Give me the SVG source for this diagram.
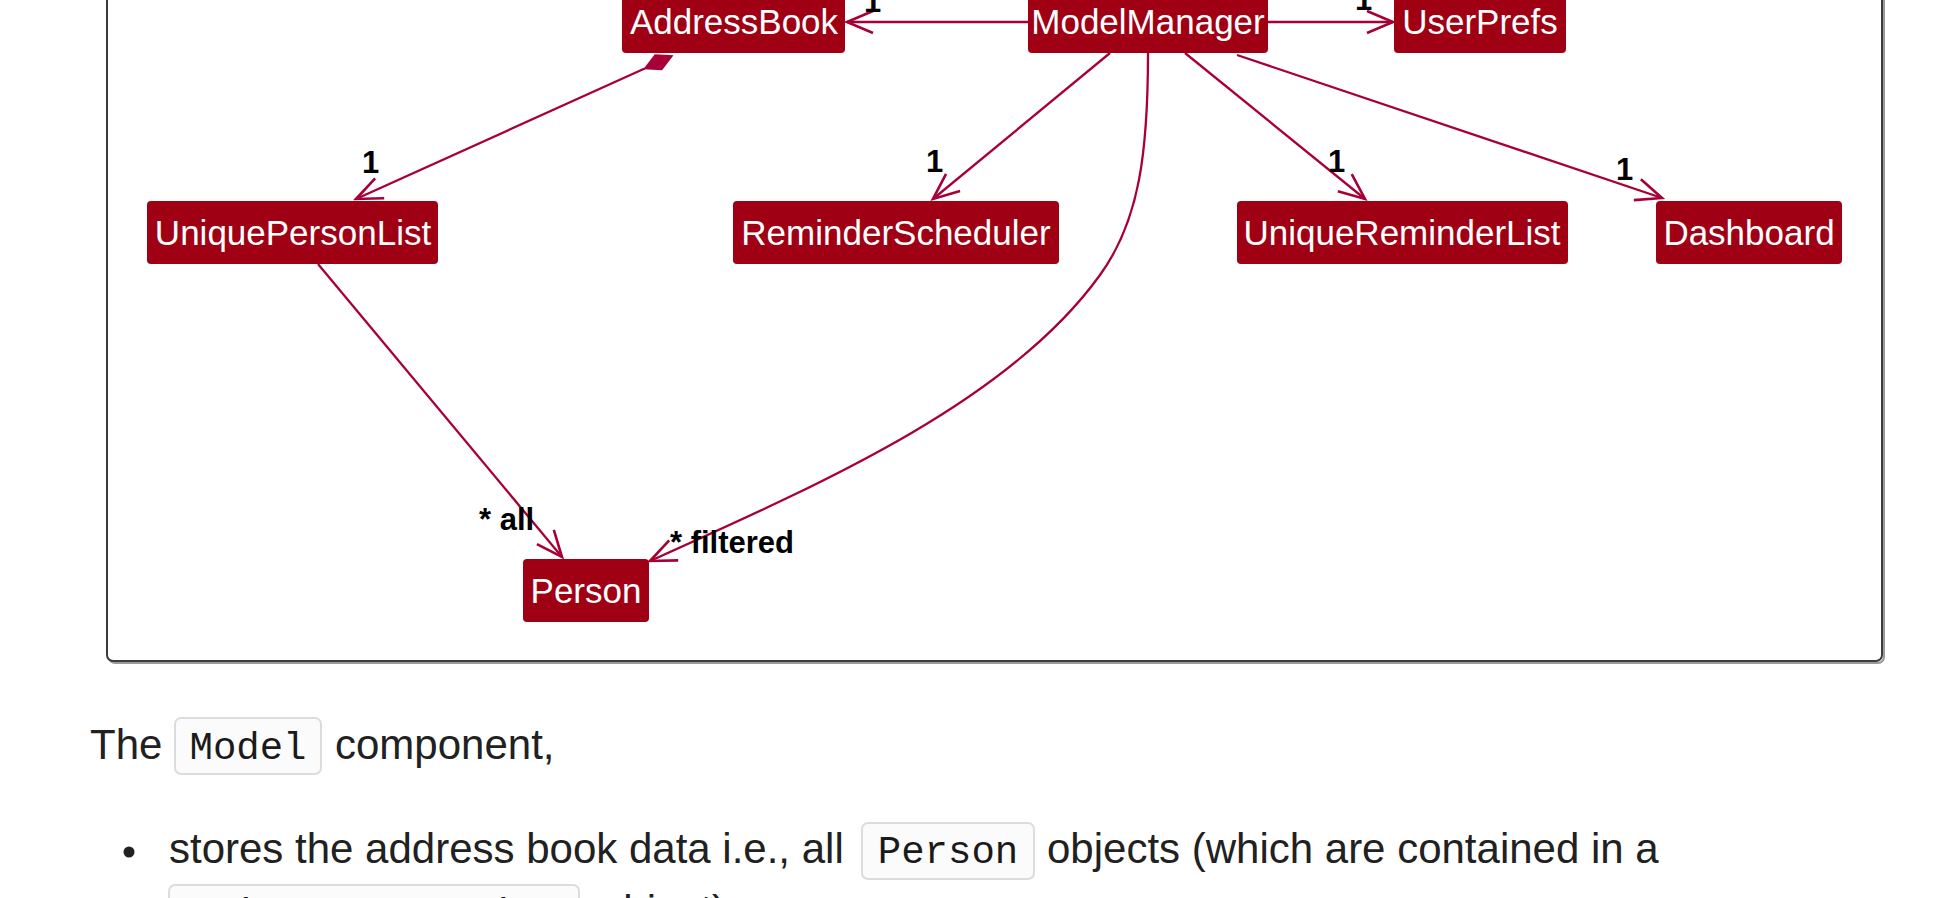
<svg xmlns="http://www.w3.org/2000/svg" width="1958" height="898" viewBox="0 0 1958 898">
<style>
.node rect{fill:#A00014;}
.node text{fill:#ffffff;font-family:"Liberation Sans",Arial,sans-serif;font-size:35px;text-anchor:middle;}
.edge{fill:none;stroke:#A80036;stroke-width:2.3;}
.lbl{fill:#000000;font-family:"Liberation Sans",Arial,sans-serif;font-size:31px;font-weight:bold;}
.body{fill:#212121;font-family:"Liberation Sans",Arial,sans-serif;font-size:42px;}
.code{fill:#1a1a1a;font-family:"Liberation Mono","Courier New",monospace;font-size:39px;text-anchor:middle;}
.codebox{fill:#fbfbfb;stroke:#dcdcdc;stroke-width:2;}
</style>
<defs>
<marker id="arr" markerUnits="userSpaceOnUse" viewBox="-30 -15 34 30" refX="0" refY="0" markerWidth="34" markerHeight="30" orient="auto">
<path d="M-26,-11 L0,0 L-26,11" fill="none" stroke="#A80036" stroke-width="2.6"/>
</marker>
</defs>
<rect width="1958" height="898" fill="#ffffff"/>
<g id="frame">
<rect x="109" y="-48" width="1775" height="711" rx="6" fill="none" stroke="#9a9a9a" stroke-width="2"/>
<rect x="107" y="-50" width="1775" height="711" rx="6" fill="#ffffff" stroke="#3c3c3c" stroke-width="2"/>
</g>
<g id="connectors">
<path class="edge" d="M1028,22 L847,22" marker-end="url(#arr)"/>
<path class="edge" d="M1268,22 L1393,22" marker-end="url(#arr)"/>
<polygon points="672,56 661.7,69.5 644.7,68.5 655.1,54.9" fill="#A80036" stroke="#A80036" stroke-width="1.5"/>
<path class="edge" d="M644.7,68.5 L356,199" marker-end="url(#arr)"/>
<path class="edge" d="M1110,53 L933,199" marker-end="url(#arr)"/>
<path class="edge" d="M1185,53 L1365,199" marker-end="url(#arr)"/>
<path class="edge" d="M1237,55 L1662,198" marker-end="url(#arr)"/>
<path class="edge" d="M318,264 L562,557" marker-end="url(#arr)"/>
<path class="edge" d="M1148,53 C1148,150 1140,220 1100,275 C1010,400 830,480 650,561" marker-end="url(#arr)"/>
<text class="lbl" x="864" y="12">1</text>
<text class="lbl" x="1355" y="10">1</text>
<text class="lbl" x="362" y="173">1</text>
<text class="lbl" x="926" y="172">1</text>
<text class="lbl" x="1328" y="172">1</text>
<text class="lbl" x="1616" y="180">1</text>
<text class="lbl" x="479" y="530">* all</text>
<text class="lbl" x="670" y="553">* filtered</text>
</g>
<g id="AddressBook" class="node"><rect x="622" y="-10" width="223" height="63" rx="4"/><text x="734" y="34">AddressBook</text></g>
<g id="ModelManager" class="node"><rect x="1028" y="-10" width="240" height="63" rx="4"/><text x="1148" y="34">ModelManager</text></g>
<g id="UserPrefs" class="node"><rect x="1394" y="-10" width="172" height="63" rx="4"/><text x="1480" y="34">UserPrefs</text></g>
<g id="UniquePersonList" class="node"><rect x="147" y="201" width="291" height="63" rx="4"/><text x="293" y="245">UniquePersonList</text></g>
<g id="ReminderScheduler" class="node"><rect x="733" y="201" width="326" height="63" rx="4"/><text x="896" y="245">ReminderScheduler</text></g>
<g id="UniqueReminderList" class="node"><rect x="1237" y="201" width="331" height="63" rx="4"/><text x="1402" y="245">UniqueReminderList</text></g>
<g id="Dashboard" class="node"><rect x="1656" y="201" width="186" height="63" rx="4"/><text x="1749" y="245">Dashboard</text></g>
<g id="Person" class="node"><rect x="523" y="559" width="126" height="63" rx="4"/><text x="586" y="603">Person</text></g>
<g id="prose">
<text class="body" x="90" y="759">The</text>
<rect class="codebox" x="175" y="718" width="146" height="56" rx="6"/>
<text class="code" x="248" y="759">Model</text>
<text class="body" x="335" y="759">component,</text>
<circle cx="129" cy="852" r="5.5" fill="#212121"/>
<text class="body" x="169" y="863">stores the address book data i.e., all</text>
<rect class="codebox" x="862" y="823" width="172" height="56" rx="6"/>
<text class="code" x="948" y="863">Person</text>
<text class="body" x="1047" y="863">objects (which are contained in a</text>
<rect class="codebox" x="169" y="885" width="410" height="56" rx="6"/>
<text class="code" x="374" y="925">UniquePersonList</text>
<text class="body" x="600" y="925">object).</text>
</g>
</svg>
